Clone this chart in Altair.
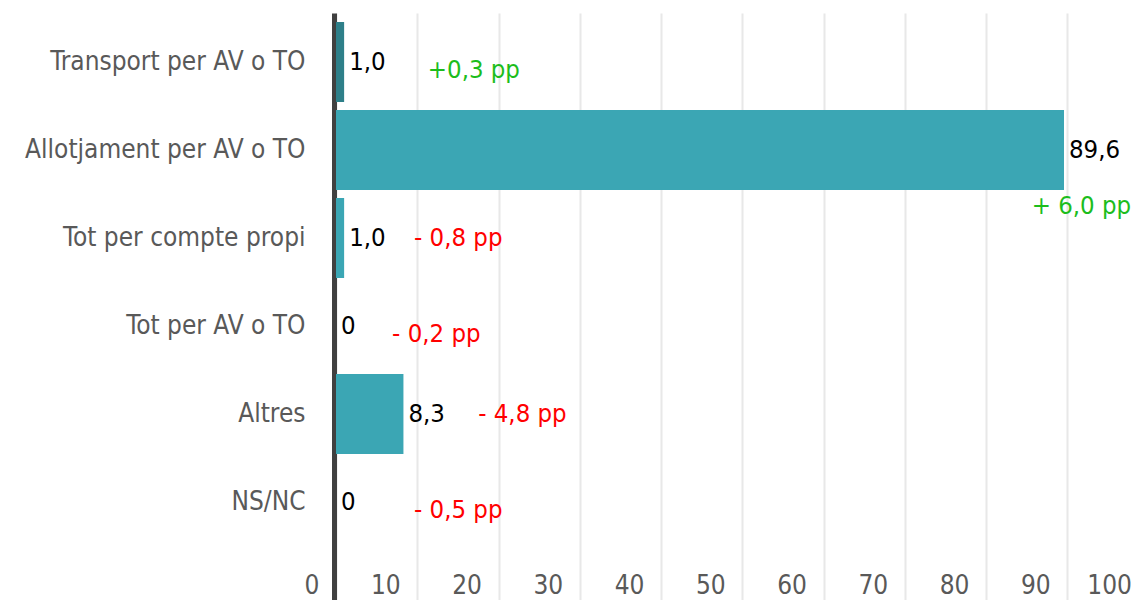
import altair as alt
import pandas as pd

categories = ["Transport per AV o TO", "Allotjament per AV o TO", "Tot per compte propi",
              "Tot per AV o TO", "Altres", "NS/NC"]
values = [1.0, 89.6, 1.0, 0.0, 8.3, 0.0]
value_labels = ["1,0", "89,6", "1,0", "0", "8,3", "0"]
changes = ["+0,3 pp", "+ 6,0 pp", "- 0,8 pp", "- 0,2 pp", "- 4,8 pp", "- 0,5 pp"]
change_sign = ["pos", "pos", "neg", "neg", "neg", "neg"]
# annotation anchor (x in data units) and vertical group of each change label
change_x = [11.3, 97.85, 9.6, 6.9, 17.5, 9.6]
change_row = ["low", "below", "mid", "low", "mid", "low"]
x_ticks = [0, 10, 20, 30, 40, 50, 60, 70, 80, 90, 100]

df = pd.DataFrame({
    "category": categories,
    "value": values,
    "label": value_labels,
    "change": changes,
    "sign": change_sign,
    "cx": change_x,
    "crow": change_row,
})

FONT = "DejaVu Sans Condensed, Liberation Sans, sans-serif"
TEAL = "#3ba6b4"
DARK = "#2e7f89"
LABEL_SIZE = 25.5

yenc = alt.Y(
    "category:N", sort=categories, title=None,
    scale=alt.Scale(paddingInner=0.0909, paddingOuter=0.3807, align=0.134),
    axis=alt.Axis(domain=True, domainColor="#404040", domainWidth=5, offset=2,
                  ticks=False, labelPadding=29, labelFontSize=26, labelColor="#595959",
                  labelFont=FONT, labelLimit=400, grid=False),
)
xscale = alt.Scale(domain=[0, 100], range=[0, 812.5], nice=False, zero=True)
xaxis = alt.Axis(values=x_ticks, domain=False, ticks=False, grid=True, gridColor="#e8e8e8",
                 gridWidth=2, labelAlign="right", labelOffset=-17, labelBaseline="alphabetic",
                 labelPadding=-7, labelFontSize=26, labelColor="#595959", labelFont=FONT,
                 labelFlush=False, labelOverlap=False, labelBound=False, title=None)

bars = alt.Chart(df).mark_bar().encode(
    x=alt.X("value:Q", scale=xscale, axis=xaxis),
    y=yenc,
    color=alt.Color("category:N", scale=alt.Scale(domain=categories,
                    range=[DARK, TEAL, TEAL, TEAL, TEAL, TEAL]), legend=None),
)

vals = alt.Chart(df).mark_text(align="left", baseline="middle", dx=5, fontSize=LABEL_SIZE,
                               font=FONT, color="#000000").encode(
    x=alt.X("value:Q", scale=xscale),
    y=alt.Y("category:N", sort=categories),
    text="label:N",
)

def change_layer(row, dy, align="left"):
    return alt.Chart(df).transform_filter(alt.datum.crow == row).mark_text(
        align=align, baseline="middle", dy=dy, fontSize=LABEL_SIZE, font=FONT).encode(
        x=alt.X("cx:Q", scale=xscale),
        y=alt.Y("category:N", sort=categories),
        text="change:N",
        color=alt.Color("sign:N", scale=alt.Scale(domain=["pos", "neg"],
                        range=["#1cbd1c", "#ff0000"]), legend=None),
    )

chart = alt.layer(
    bars, vals,
    change_layer("mid", 0), change_layer("low", 8), change_layer("below", 56, "right"),
).resolve_scale(color="independent").properties(
    width=796, height=587,
    background="white",
    autosize=alt.AutoSizeParams(type="none"),
    padding={"left": 328, "top": 5, "right": 0, "bottom": 0},
).configure_view(stroke=None)

chart.save("out.html", embed_options={"renderer": "svg", "actions": False})
